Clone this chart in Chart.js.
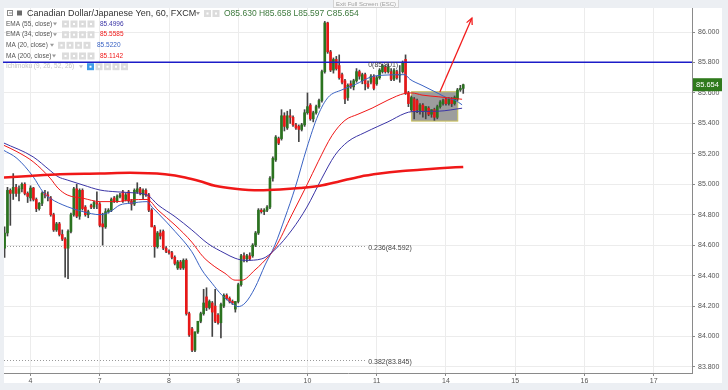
<!DOCTYPE html>
<html>
<head>
<meta charset="utf-8">
<script src="https://cdn.jsdelivr.net/npm/chart.js@4.4.1/dist/chart.umd.min.js"></script>
<style>
html,body{margin:0;padding:0;background:#eceff3;overflow:hidden;}
canvas{display:block;}
</style>
</head>
<body>
<canvas id="chart" width="728" height="390"></canvas>
<script>
// ---------------- data ----------------
const dayLabels  = ['4','7','8','9','10','11','14','15','16','17'];
const dayTickIdx = [0, 24, 48, 72, 96, 120, 144, 168, 192, 216];
const priceTicks = [83.8, 84.0, 84.2, 84.4, 84.6, 84.8, 85.0, 85.2, 85.4, 85.6, 85.8, 86.0];
const firstHour = -9;

const opens = [
84.58,84.68,84.96,84.94,84.98,84.94,84.97,85.00,84.94,
84.91,84.975,84.90,84.84,84.875,84.94,84.93,84.91,84.80,84.70,84.74,84.67,84.64,84.58,84.69,84.80,84.97,84.79,84.96,84.85,84.80,84.86,84.85,84.88,
84.87,84.74,84.72,84.82,84.83,84.91,84.89,84.92,84.95,84.90,84.95,84.89,84.87,84.95,84.97,84.93,84.96,84.93,84.83,84.72,84.59,84.68,84.69,84.58,
84.56,84.55,84.52,84.45,84.49,84.45,84.50,84.15,84.05,83.91,84.03,84.10,84.15,84.26,84.19,84.22,84.20,84.14,84.09,84.20,84.27,84.25,84.23,84.18,
84.23,84.34,84.53,84.51,84.53,84.53,84.60,84.68,84.83,84.82,84.83,84.85,85.04,85.16,85.30,85.30,85.45,85.37,85.45,85.44,85.39,85.38,85.36,85.39,
85.47,85.52,85.43,85.47,85.51,85.55,85.74,86.06,85.87,85.75,85.82,85.78,85.72,85.68,85.57,85.66,85.64,85.68,85.74,85.68,85.72,85.66,85.67,85.71,
85.66,85.70,85.74,85.77,85.74,85.74,85.69,85.74,85.72,85.74,85.82,85.60,85.49,85.56,85.55,85.48,85.52,85.48,85.50,85.46,85.49,85.44,85.51,85.53,
85.56,85.53,85.56,85.53,85.56,85.62,85.630];
const highs = [
84.72,84.98,84.97,85.07,85.00,84.99,85.01,85.01,84.95,
84.99,84.98,84.91,84.88,84.95,84.96,84.95,84.92,84.81,84.75,84.75,84.70,84.65,84.70,84.81,84.98,85.00,84.97,84.97,84.86,84.83,84.87,84.89,84.95,
84.88,84.81,84.84,84.84,84.91,84.92,84.93,84.94,84.96,84.94,84.96,84.90,84.97,85.01,84.98,84.97,84.97,84.94,84.84,84.73,84.69,84.70,84.70,84.59,
84.57,84.56,84.53,84.50,84.50,84.51,84.51,84.16,84.06,84.03,84.10,84.16,84.31,84.32,84.24,84.23,84.31,84.15,84.22,84.28,84.28,84.26,84.24,84.23,
84.35,84.54,84.55,84.54,84.55,84.61,84.69,84.84,84.84,84.84,84.86,85.05,85.18,85.32,85.31,85.49,85.47,85.48,85.49,85.45,85.40,85.39,85.40,85.49,
85.60,85.53,85.48,85.52,85.56,85.75,86.07,86.065,85.88,85.83,85.84,85.85,85.73,85.69,85.66,85.68,85.69,85.76,85.75,85.73,85.73,85.68,85.72,85.72,
85.71,85.76,85.79,85.78,85.79,85.76,85.76,85.75,85.78,85.81,85.85,85.61,85.58,85.57,85.56,85.53,85.53,85.51,85.51,85.49,85.50,85.52,85.55,85.56,
85.57,85.57,85.57,85.58,85.63,85.65,85.658];
const lows = [
84.52,84.66,84.73,84.90,84.92,84.89,84.95,84.93,84.88,
84.89,84.89,84.82,84.83,84.86,84.91,84.89,84.79,84.69,84.69,84.66,84.63,84.39,84.38,84.68,84.79,84.78,84.77,84.83,84.79,84.78,84.84,84.84,84.84,
84.72,84.60,84.71,84.81,84.82,84.88,84.88,84.91,84.88,84.89,84.88,84.83,84.86,84.94,84.93,84.90,84.92,84.82,84.72,84.52,84.58,84.64,84.57,84.55,
84.54,84.51,84.47,84.44,84.44,84.44,84.14,84.00,83.90,83.90,84.02,84.09,84.14,84.17,84.18,84.00,84.09,84.08,83.99,84.19,84.24,84.22,84.21,84.16,
84.22,84.33,84.49,84.49,84.50,84.52,84.59,84.67,84.81,84.80,84.82,84.84,85.02,85.15,85.26,85.29,85.35,85.36,85.40,85.38,85.36,85.28,85.35,85.38,
85.46,85.42,85.41,85.46,85.50,85.54,85.73,85.86,85.74,85.73,85.75,85.69,85.66,85.53,85.55,85.63,85.62,85.67,85.69,85.66,85.62,85.63,85.66,85.62,
85.65,85.69,85.73,85.73,85.73,85.68,85.68,85.69,85.67,85.73,85.59,85.51,85.48,85.43,85.47,85.46,85.44,85.43,85.45,85.44,85.42,85.43,85.50,85.52,
85.52,85.52,85.51,85.52,85.55,85.61,85.597];
const closes = [
84.68,84.96,84.94,84.98,84.94,84.97,85.00,84.94,84.92,
84.975,84.90,84.84,84.875,84.94,84.93,84.92,84.80,84.70,84.74,84.67,84.64,84.58,84.69,84.80,84.97,84.79,84.96,84.84,84.80,84.82,84.85,84.88,84.87,
84.73,84.72,84.82,84.83,84.90,84.89,84.92,84.93,84.89,84.93,84.89,84.87,84.96,84.97,84.94,84.96,84.93,84.83,84.72,84.59,84.68,84.66,84.58,84.56,
84.55,84.52,84.48,84.49,84.45,84.50,84.15,84.01,83.91,84.03,84.10,84.15,84.22,84.19,84.23,84.16,84.10,84.09,84.21,84.27,84.25,84.23,84.22,84.23,
84.34,84.53,84.51,84.53,84.51,84.60,84.68,84.83,84.82,84.83,84.85,85.04,85.17,85.31,85.27,85.45,85.38,85.45,85.44,85.39,85.37,85.36,85.39,85.47,
85.51,85.43,85.47,85.51,85.55,85.74,86.06,85.87,85.75,85.82,85.76,85.70,85.67,85.56,85.65,85.64,85.68,85.74,85.71,85.72,85.66,85.64,85.71,85.63,
85.70,85.75,85.78,85.74,85.77,85.69,85.75,85.70,85.72,85.80,85.60,85.53,85.57,85.48,85.49,85.52,85.48,85.51,85.46,85.49,85.44,85.51,85.54,85.55,
85.53,85.56,85.53,85.57,85.62,85.63,85.654];

const ma200X = [-9.2,-0.2,10.2,24.1,34.5,46.6,53.6,58.8,63.9,70.9,79.5,86.5,93.4,100.3,107.3,114.2,121.1,128.1,135,141.9,150];
const ma200Y = [85.045,85.055,85.065,85.07,85.075,85.065,85.045,85.02,84.99,84.97,84.96,84.965,84.975,84.99,85.02,85.05,85.07,85.085,85.095,85.105,85.114];

const ema55X = [-9.5,0.9,6.8,9.5,12.7,18.2,24.1,30,34.5,40.4,44.2,50.1,55.9,61.5,67.4,70.9,74.4,80.2,84.7,90.6,95.8,101,105.5,110,115.9,120.4,123.9,129.8,132.2,141.3,149.6];
const ema55Y = [85.273,85.18,85.09,85.05,85.028,84.995,84.962,84.95,84.945,84.93,84.864,84.787,84.70,84.61,84.546,84.514,84.50,84.51,84.57,84.70,84.85,85.04,85.19,85.28,85.34,85.38,85.41,85.466,85.477,85.48,85.4996];

const ema34X = [-9.5,-4.7,0.9,6.8,9.5,12.7,18.2,24.1,30,34.5,40.4,44.2,50.1,55.9,59.8,63.9,67.4,70.9,73.3,77.8,80.2,84.7,90.6,95.8,99.7,104.5,109,113.5,118.4,123.9,129.8,132.2,135.7,141.3,146.1,149.6];
const ema34Y = [85.258,85.214,85.148,85.04,84.975,84.93,84.908,84.886,84.886,84.897,84.90,84.83,84.732,84.62,84.524,84.458,84.415,84.37,84.37,84.437,84.48,84.58,84.80,84.995,85.148,85.32,85.42,85.46,85.50,85.553,85.597,85.60,85.586,85.575,85.565,85.5585];

const ma20X = [-9.5,-4.7,0.9,4.3,6.8,12.7,18.2,24.1,27.6,31,34.5,40.4,42.1,44.2,50.1,55.9,59.4,62.9,66.4,69.8,71.9,74.4,77.8,81.3,84.7,88.2,91.7,95.8,99.7,103.1,107.9,112.5,118.4,123.9,129.8,131.5,135.7,141.3,144.7,147.1,149.6];
const ma20Y = [85.225,85.17,85.05,84.95,84.908,84.853,84.82,84.80,84.82,84.864,84.875,84.886,84.85,84.81,84.69,84.557,84.437,84.35,84.27,84.218,84.196,84.22,84.32,84.47,84.60,84.78,84.975,85.24,85.455,85.57,85.62,85.655,85.707,85.718,85.72,85.69,85.65,85.597,85.565,85.553,85.522];

const hLineLevel = 85.801;
const fibLevels = [84.592, 83.845];
const fibNames  = ['0.236(84.592)', '0.382(83.845)'];
const fibZeroName = '0(85.801)';
const fibEndIdx = 116;
const boxIdx   = [132.1, 148.1];
const boxPrice = [85.415, 85.608];
const arrowFrom = [141.9, 85.606];
const arrowTo   = [153.0, 86.092];
const lastPrice = 85.654;
const titleText = 'Canadian Dollar/Japanese Yen, 60, FXCM';
const ohlcText  = 'O85.630 H85.658 L85.597 C85.654';
const legendNames  = ['EMA (55, close)', 'EMA (34, close)', 'MA (20, close)', 'MA (200, close)'];
const legendValues = ['85.4996', '85.5585', '85.5220', '85.1142'];
const ichimokuName = 'Ichimoku (9, 26, 52, 26)';

// ---------------- styles ----------------
const UP = '#2b7320', DOWN = '#e81818', WICK = '#444444';
const C_EMA55 = '#3b35a6', C_EMA34 = '#f01818', C_MA20 = '#3a63c4', C_MA200 = '#f01818';
const FONT = "'Liberation Sans', Arial, sans-serif";

const xs = opens.map((_, k) => firstHour + k);
const bodyData = xs.map((x, k) => {
  const o = opens[k], c = closes[k];
  if (Math.abs(o - c) < 0.006) { const m = (o + c) / 2; return {x, y: [m - 0.003, m + 0.003]}; }
  return {x, y: [o, c]};
});
const wickData = xs.map((x, k) => ({x, y: [lows[k], highs[k]]}));
const candleColor = k => closes[k] >= opens[k] ? UP : DOWN;
const pts = (X, Y) => X.map((x, k) => ({x, y: Y[k]}));

// ---------------- plugins ----------------
const bgPlugin = {
  id: 'bg',
  beforeDraw(chart) {
    const c = chart.ctx;
    c.save();
    c.fillStyle = '#eceff3'; c.fillRect(0, 0, 728, 390);
    c.fillStyle = '#ffffff'; c.fillRect(4, 8, 718, 375);
    c.restore();
  }
};

const underPlugin = {
  id: 'under',
  beforeDatasetsDraw(chart) {
    const c = chart.ctx, xS = chart.scales.x, yS = chart.scales.y, a = chart.chartArea;
    c.save();
    c.strokeStyle = '#9a9a9a'; c.lineWidth = 1; c.setLineDash([1, 2]);
    fibLevels.forEach(v => {
      const y = Math.round(yS.getPixelForValue(v)) + 0.5;
      c.beginPath(); c.moveTo(a.left, y); c.lineTo(xS.getPixelForValue(fibEndIdx), y); c.stroke();
    });
    c.setLineDash([]);
    const x0 = xS.getPixelForValue(boxIdx[0]), x1 = xS.getPixelForValue(boxIdx[1]);
    const y0 = yS.getPixelForValue(boxPrice[1]), y1 = yS.getPixelForValue(boxPrice[0]);
    c.fillStyle = '#9d9d9d'; c.fillRect(x0, y0, x1 - x0, y1 - y0);
    c.strokeStyle = '#cbc25a'; c.lineWidth = 1; c.strokeRect(x0, y0, x1 - x0, y1 - y0);
    c.restore();
  },
  afterDatasetsDraw(chart) {
    const c = chart.ctx, xS = chart.scales.x, yS = chart.scales.y, a = chart.chartArea;
    c.save();
    const hy = yS.getPixelForValue(hLineLevel);
    c.strokeStyle = '#1c1cc8'; c.lineWidth = 1.5;
    c.beginPath(); c.moveTo(a.left - 1, hy); c.lineTo(a.right, hy); c.stroke();
    const ax0 = xS.getPixelForValue(arrowFrom[0]), ay0 = yS.getPixelForValue(arrowFrom[1]);
    const ax1 = xS.getPixelForValue(arrowTo[0]),   ay1 = yS.getPixelForValue(arrowTo[1]);
    c.strokeStyle = '#f21c1c'; c.lineWidth = 1.3;
    c.beginPath(); c.moveTo(ax0, ay0); c.lineTo(ax1, ay1); c.stroke();
    const ang = Math.atan2(ay1 - ay0, ax1 - ax0), L = 7;
    c.beginPath();
    c.moveTo(ax1 - L * Math.cos(ang - 0.45), ay1 - L * Math.sin(ang - 0.45));
    c.lineTo(ax1, ay1);
    c.lineTo(ax1 - L * Math.cos(ang + 0.45), ay1 - L * Math.sin(ang + 0.45));
    c.stroke();
    c.fillStyle = '#444'; c.font = '7px ' + FONT; c.textBaseline = 'middle'; c.textAlign = 'left';
    const lx = xS.getPixelForValue(fibEndIdx) + 3;
    fibLevels.forEach((v, k) => c.fillText(fibNames[k], lx, yS.getPixelForValue(v) + 2));
    c.fillText(fibZeroName, lx, hy + 3);
    c.restore();
  }
};

function tri(c, x, y) {
  c.beginPath(); c.moveTo(x, y - 1.5); c.lineTo(x + 4, y - 1.5); c.lineTo(x + 2, y + 1.5); c.closePath(); c.fill();
}
function icons(c, x, y, n, firstBlue) {
  for (let k = 0; k < n; k++) {
    c.fillStyle = (firstBlue && k === 0) ? '#3d9be9' : '#dcdcdc';
    c.fillRect(x + k * 8.5, y - 3.5, 7, 7);
    c.fillStyle = '#ffffff';
    c.fillRect(x + k * 8.5 + 2.5, y - 1, 2, 2);
  }
}

const overlayPlugin = {
  id: 'overlay',
  afterDraw(chart) {
    const c = chart.ctx, yS = chart.scales.y, a = chart.chartArea;
    c.save();
    c.fillStyle = '#f7f7f7'; c.fillRect(333, 0, 66, 8);
    c.strokeStyle = '#d3d3d3'; c.lineWidth = 1; c.strokeRect(333.5, -1, 65, 8.5);
    c.fillStyle = '#a0a0a0'; c.font = '6px ' + FONT; c.textBaseline = 'middle'; c.textAlign = 'left';
    c.fillText('Exit Full Screen (ESC)', 336, 4);
    c.strokeStyle = '#8a8a8a'; c.lineWidth = 1;
    c.strokeRect(7.5, 10.5, 5, 5);
    c.beginPath(); c.moveTo(9, 13); c.lineTo(12, 13); c.stroke();
    c.fillStyle = '#6a6a6a'; c.fillRect(17, 10.5, 5, 5);
    c.fillStyle = '#333333'; c.font = '9px ' + FONT;
    c.fillText(titleText, 27, 13.5);
    c.fillStyle = '#9a9a9a'; tri(c, 196, 13.5);
    icons(c, 204, 13.5, 2, false);
    c.fillStyle = '#3e7a3e'; c.font = '8.5px ' + FONT;
    c.fillText(ohlcText, 224, 13.5);
    const rowsY = [24, 34.7, 45.3, 56];
    const triX = [53, 53, 50, 52], iconX = [62, 62, 58, 62], valX = [100, 100, 97, 100];
    const valC = [C_EMA55, C_EMA34, C_MA20, C_MA200];
    rowsY.forEach((y, k) => {
      c.fillStyle = '#555'; c.font = '6.5px ' + FONT;
      c.fillText(legendNames[k], 6, y);
      c.fillStyle = '#9a9a9a'; tri(c, triX[k], y);
      icons(c, iconX[k], y, 4, false);
      c.fillStyle = valC[k]; c.font = '6.5px ' + FONT;
      c.fillText(legendValues[k], valX[k], y);
    });
    c.fillStyle = '#c4c4c4'; c.font = '6.5px ' + FONT;
    c.fillText(ichimokuName, 6, 66.7);
    tri(c, 79, 66.7);
    icons(c, 87, 66.7, 5, true);
    const py = yS.getPixelForValue(lastPrice);
    c.fillStyle = '#2f7a1c'; c.fillRect(a.right + 1, py - 6.5, 29, 13);
    c.fillStyle = '#ffffff'; c.font = '7.5px ' + FONT; c.textAlign = 'left';
    c.fillText(lastPrice.toFixed(3), a.right + 4, py + 0.5);
    c.restore();
  }
};

// ---------------- chart ----------------
new Chart(document.getElementById('chart'), {
  type: 'bar',
  data: {
    datasets: [
      { type: 'bar', data: wickData, grouped: false, barThickness: 1, order: 3,
        backgroundColor: WICK, borderWidth: 0 },
      { type: 'bar', data: bodyData, grouped: false, barThickness: 2, order: 2,
        backgroundColor: ctx => candleColor(ctx.dataIndex), borderWidth: 0 },
      { type: 'line', data: pts(ma200X, ma200Y), borderColor: C_MA200, borderWidth: 2.5, pointRadius: 0, cubicInterpolationMode: 'monotone', order: 1 },
      { type: 'line', data: pts(ema55X, ema55Y), borderColor: C_EMA55, borderWidth: 1, pointRadius: 0, cubicInterpolationMode: 'monotone', order: 1 },
      { type: 'line', data: pts(ema34X, ema34Y), borderColor: C_EMA34, borderWidth: 1, pointRadius: 0, cubicInterpolationMode: 'monotone', order: 1 },
      { type: 'line', data: pts(ma20X, ma20Y), borderColor: C_MA20, borderWidth: 1, pointRadius: 0, cubicInterpolationMode: 'monotone', order: 1 }
    ]
  },
  options: {
    responsive: false,
    devicePixelRatio: 1,
    animation: false,
    layout: { padding: { left: 4, right: 6, top: 8, bottom: 6 } },
    plugins: { legend: { display: false }, tooltip: { enabled: false } },
    scales: {
      x: {
        type: 'linear', min: -9.2, max: 229.3, offset: false,
        afterBuildTicks: s => { s.ticks = dayTickIdx.map(v => ({ value: v })); },
        afterFit: s => { s.height = 11; },
        grid: { color: '#ececec', offset: false, tickLength: 3, tickColor: '#8a8a8a' },
        border: { display: true, color: '#8a8a8a' },
        ticks: {
          autoSkip: false, maxRotation: 0, padding: 1, color: '#555',
          font: { size: 7, family: FONT },
          callback: v => { const k = dayTickIdx.indexOf(v); return k >= 0 ? dayLabels[k] : ''; }
        }
      },
      y: {
        type: 'linear', position: 'right', min: 83.76, max: 86.158,
        afterBuildTicks: s => { s.ticks = priceTicks.map(v => ({ value: v })); },
        afterFit: s => { s.width = 30; },
        grid: { color: '#ececec', tickLength: 3, tickColor: '#8a8a8a' },
        border: { display: true, color: '#8a8a8a' },
        ticks: {
          padding: 3, color: '#555', font: { size: 7, family: FONT },
          callback: v => Number(v).toFixed(3)
        }
      }
    }
  },
  plugins: [bgPlugin, underPlugin, overlayPlugin]
});
</script>
</body>
</html>
